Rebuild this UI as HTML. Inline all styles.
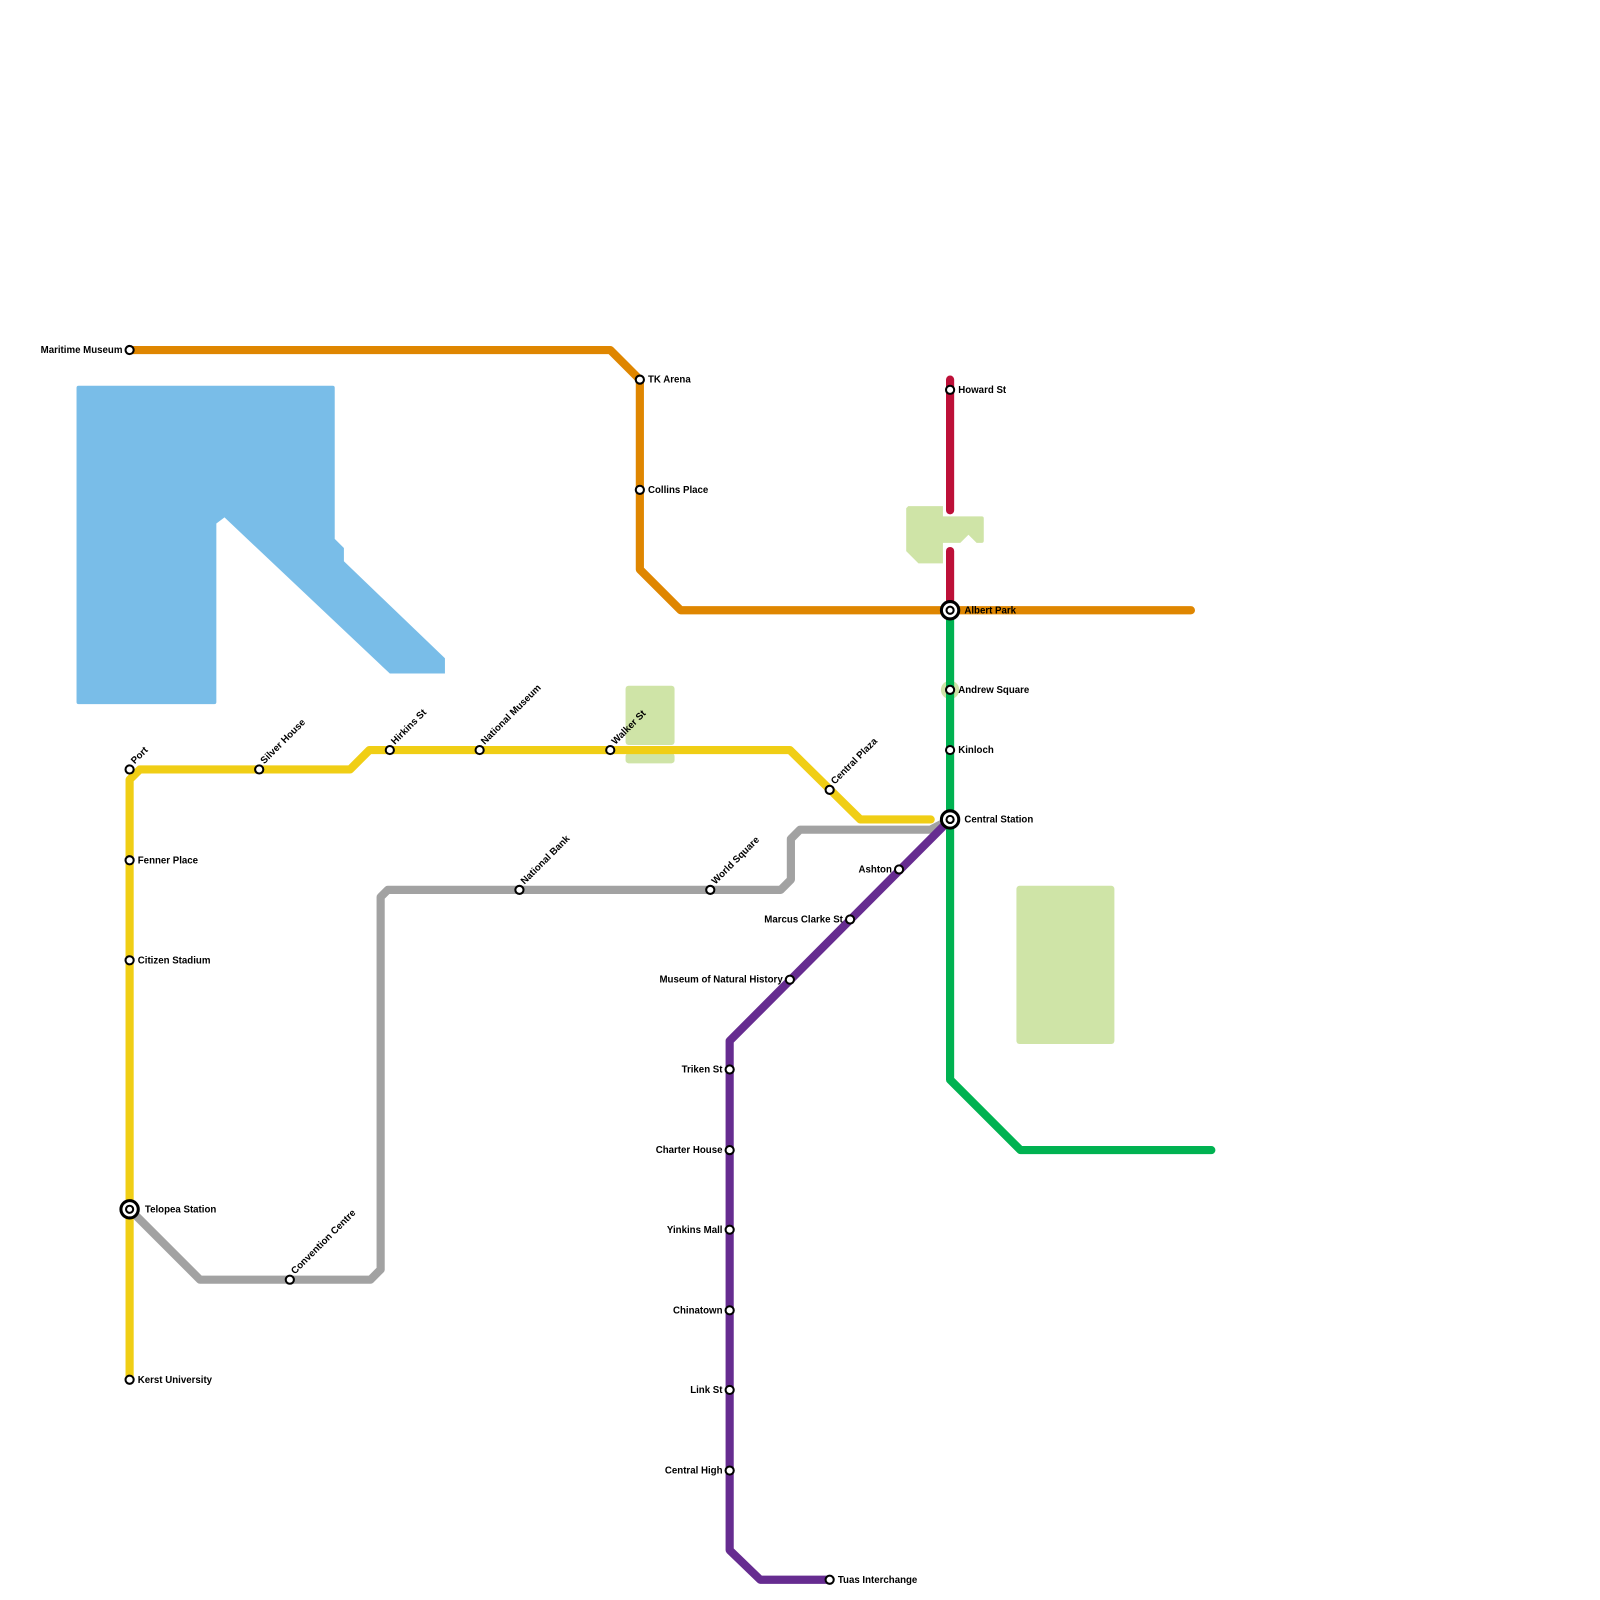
<!DOCTYPE html>
<html><head><meta charset="utf-8"><style>
html,body{margin:0;padding:0;background:#fff;}
svg{display:block;}
text{font-family:"Liberation Sans",sans-serif;font-weight:bold;font-size:9.5px;fill:#000;}
</style></head><body>
<svg width="1600" height="1600" viewBox="0 0 1600 1600" xmlns="http://www.w3.org/2000/svg">
<g transform="scale(1.0205)">
<path d="M77,378 H326 Q328,378 328,380 V528 L337,537 V550 L436,645 V660 H382 L220,507 L212,513 V688 Q212,690 210,690 H77 Q75,690 75,688 V380 Q75,378 77,378 Z" fill="#79bde8"/>
<path d="M890,496 H924 V506 H962 Q964,506 964,508 V530 Q964,532 962,532 H957 L949,524 L941,532 H924 V552 H900 L888,540 V498 Z" fill="#cfe4a7"/>
<rect x="613" y="672" width="48" height="58" rx="3" fill="#cfe4a7"/>
<rect x="613" y="738" width="48" height="10" rx="3" fill="#cfe4a7"/>
<rect x="996" y="868" width="96" height="155" rx="3" fill="#cfe4a7"/>
<circle cx="931" cy="676" r="9" fill="#cfe4a7"/>
<g fill="none" stroke-width="8" stroke-linecap="round" stroke-linejoin="round">
<polyline stroke="#df8600" points="127,343 598,343 627,372 627,558 667,598 1167,598"/>
<polyline stroke="#bd1038" points="931,372 931,500"/>
<polyline stroke="#bd1038" points="931,540 931,598"/>
<polyline stroke="#00b251" points="931,598 931,1058 1000,1127 1187,1127"/>
<polyline stroke="#a2a2a2" points="127,1185 196,1254 363,1254 373,1244 373,879 380,872 765,872 775,862 775,822 784,813 912,813 931,803"/>
<polyline stroke="#f0ce15" points="127,1352 127,764 137,754 343,754 362,735 774,735 843,803 912,803"/>
<polyline stroke="#662c90" points="931,803 715,1020 715,1519 745,1548 813,1548"/>
</g>
<g fill="#fff" stroke="#000" stroke-width="2">
<circle cx="127" cy="343" r="4"/><circle cx="627" cy="372" r="4"/><circle cx="627" cy="480" r="4"/>
<circle cx="931" cy="382" r="4"/><circle cx="931" cy="676" r="4"/><circle cx="931" cy="735" r="4"/>
<circle cx="127" cy="754" r="4"/><circle cx="127" cy="843" r="4"/><circle cx="127" cy="941" r="4"/><circle cx="127" cy="1352" r="4"/>
<circle cx="254" cy="754" r="4"/><circle cx="382" cy="735" r="4"/><circle cx="470" cy="735" r="4"/><circle cx="598" cy="735" r="4"/>
<circle cx="813" cy="774" r="4"/><circle cx="509" cy="872" r="4"/><circle cx="696" cy="872" r="4"/><circle cx="284" cy="1254" r="4"/>
<circle cx="881" cy="852" r="4"/><circle cx="833" cy="901" r="4"/><circle cx="774" cy="960" r="4"/>
<circle cx="715" cy="1048" r="4"/><circle cx="715" cy="1127" r="4"/><circle cx="715" cy="1205" r="4"/><circle cx="715" cy="1284" r="4"/><circle cx="715" cy="1362" r="4"/><circle cx="715" cy="1441" r="4"/>
<circle cx="813" cy="1548" r="4"/>
</g>
<g fill="#fff" stroke="#000">
<circle cx="931" cy="598" r="8.5" stroke-width="3"/><circle cx="931" cy="598" r="3.5" stroke-width="2"/>
<circle cx="931" cy="803" r="8.5" stroke-width="3"/><circle cx="931" cy="803" r="3.5" stroke-width="2"/>
<circle cx="127" cy="1185" r="8.5" stroke-width="3"/><circle cx="127" cy="1185" r="3.5" stroke-width="2"/>
</g>
<text x="120" y="346" text-anchor="end">Maritime Museum</text>
<text x="635" y="375">TK Arena</text>
<text x="635" y="483">Collins Place</text>
<text x="939" y="385">Howard St</text>
<text x="945" y="601">Albert Park</text>
<text x="939" y="679">Andrew Square</text>
<text x="939" y="738">Kinloch</text>
<text x="945" y="806">Central Station</text>
<text x="135" y="846">Fenner Place</text>
<text x="135" y="944">Citizen Stadium</text>
<text x="142" y="1188">Telopea Station</text>
<text x="135" y="1355">Kerst University</text>
<text x="874" y="855" text-anchor="end">Ashton</text>
<text x="826" y="904" text-anchor="end">Marcus Clarke St</text>
<text x="767" y="963" text-anchor="end">Museum of Natural History</text>
<text x="708" y="1051" text-anchor="end">Triken St</text>
<text x="708" y="1130" text-anchor="end">Charter House</text>
<text x="708" y="1208" text-anchor="end">Yinkins Mall</text>
<text x="708" y="1287" text-anchor="end">Chinatown</text>
<text x="708" y="1365" text-anchor="end">Link St</text>
<text x="708" y="1444" text-anchor="end">Central High</text>
<text x="821" y="1551">Tuas Interchange</text>
<text transform="translate(132,749) rotate(-45)">Port</text>
<text transform="translate(259,749) rotate(-45)">Silver House</text>
<text transform="translate(387,730) rotate(-45)">Hirkins St</text>
<text transform="translate(475,730) rotate(-45)">National Museum</text>
<text transform="translate(603,730) rotate(-45)">Walker St</text>
<text transform="translate(818,769) rotate(-45)">Central Plaza</text>
<text transform="translate(514,867) rotate(-45)">National Bank</text>
<text transform="translate(701,867) rotate(-45)">World Square</text>
<text transform="translate(289,1249) rotate(-45)">Convention Centre</text>
</g>
</svg>
</body></html>
